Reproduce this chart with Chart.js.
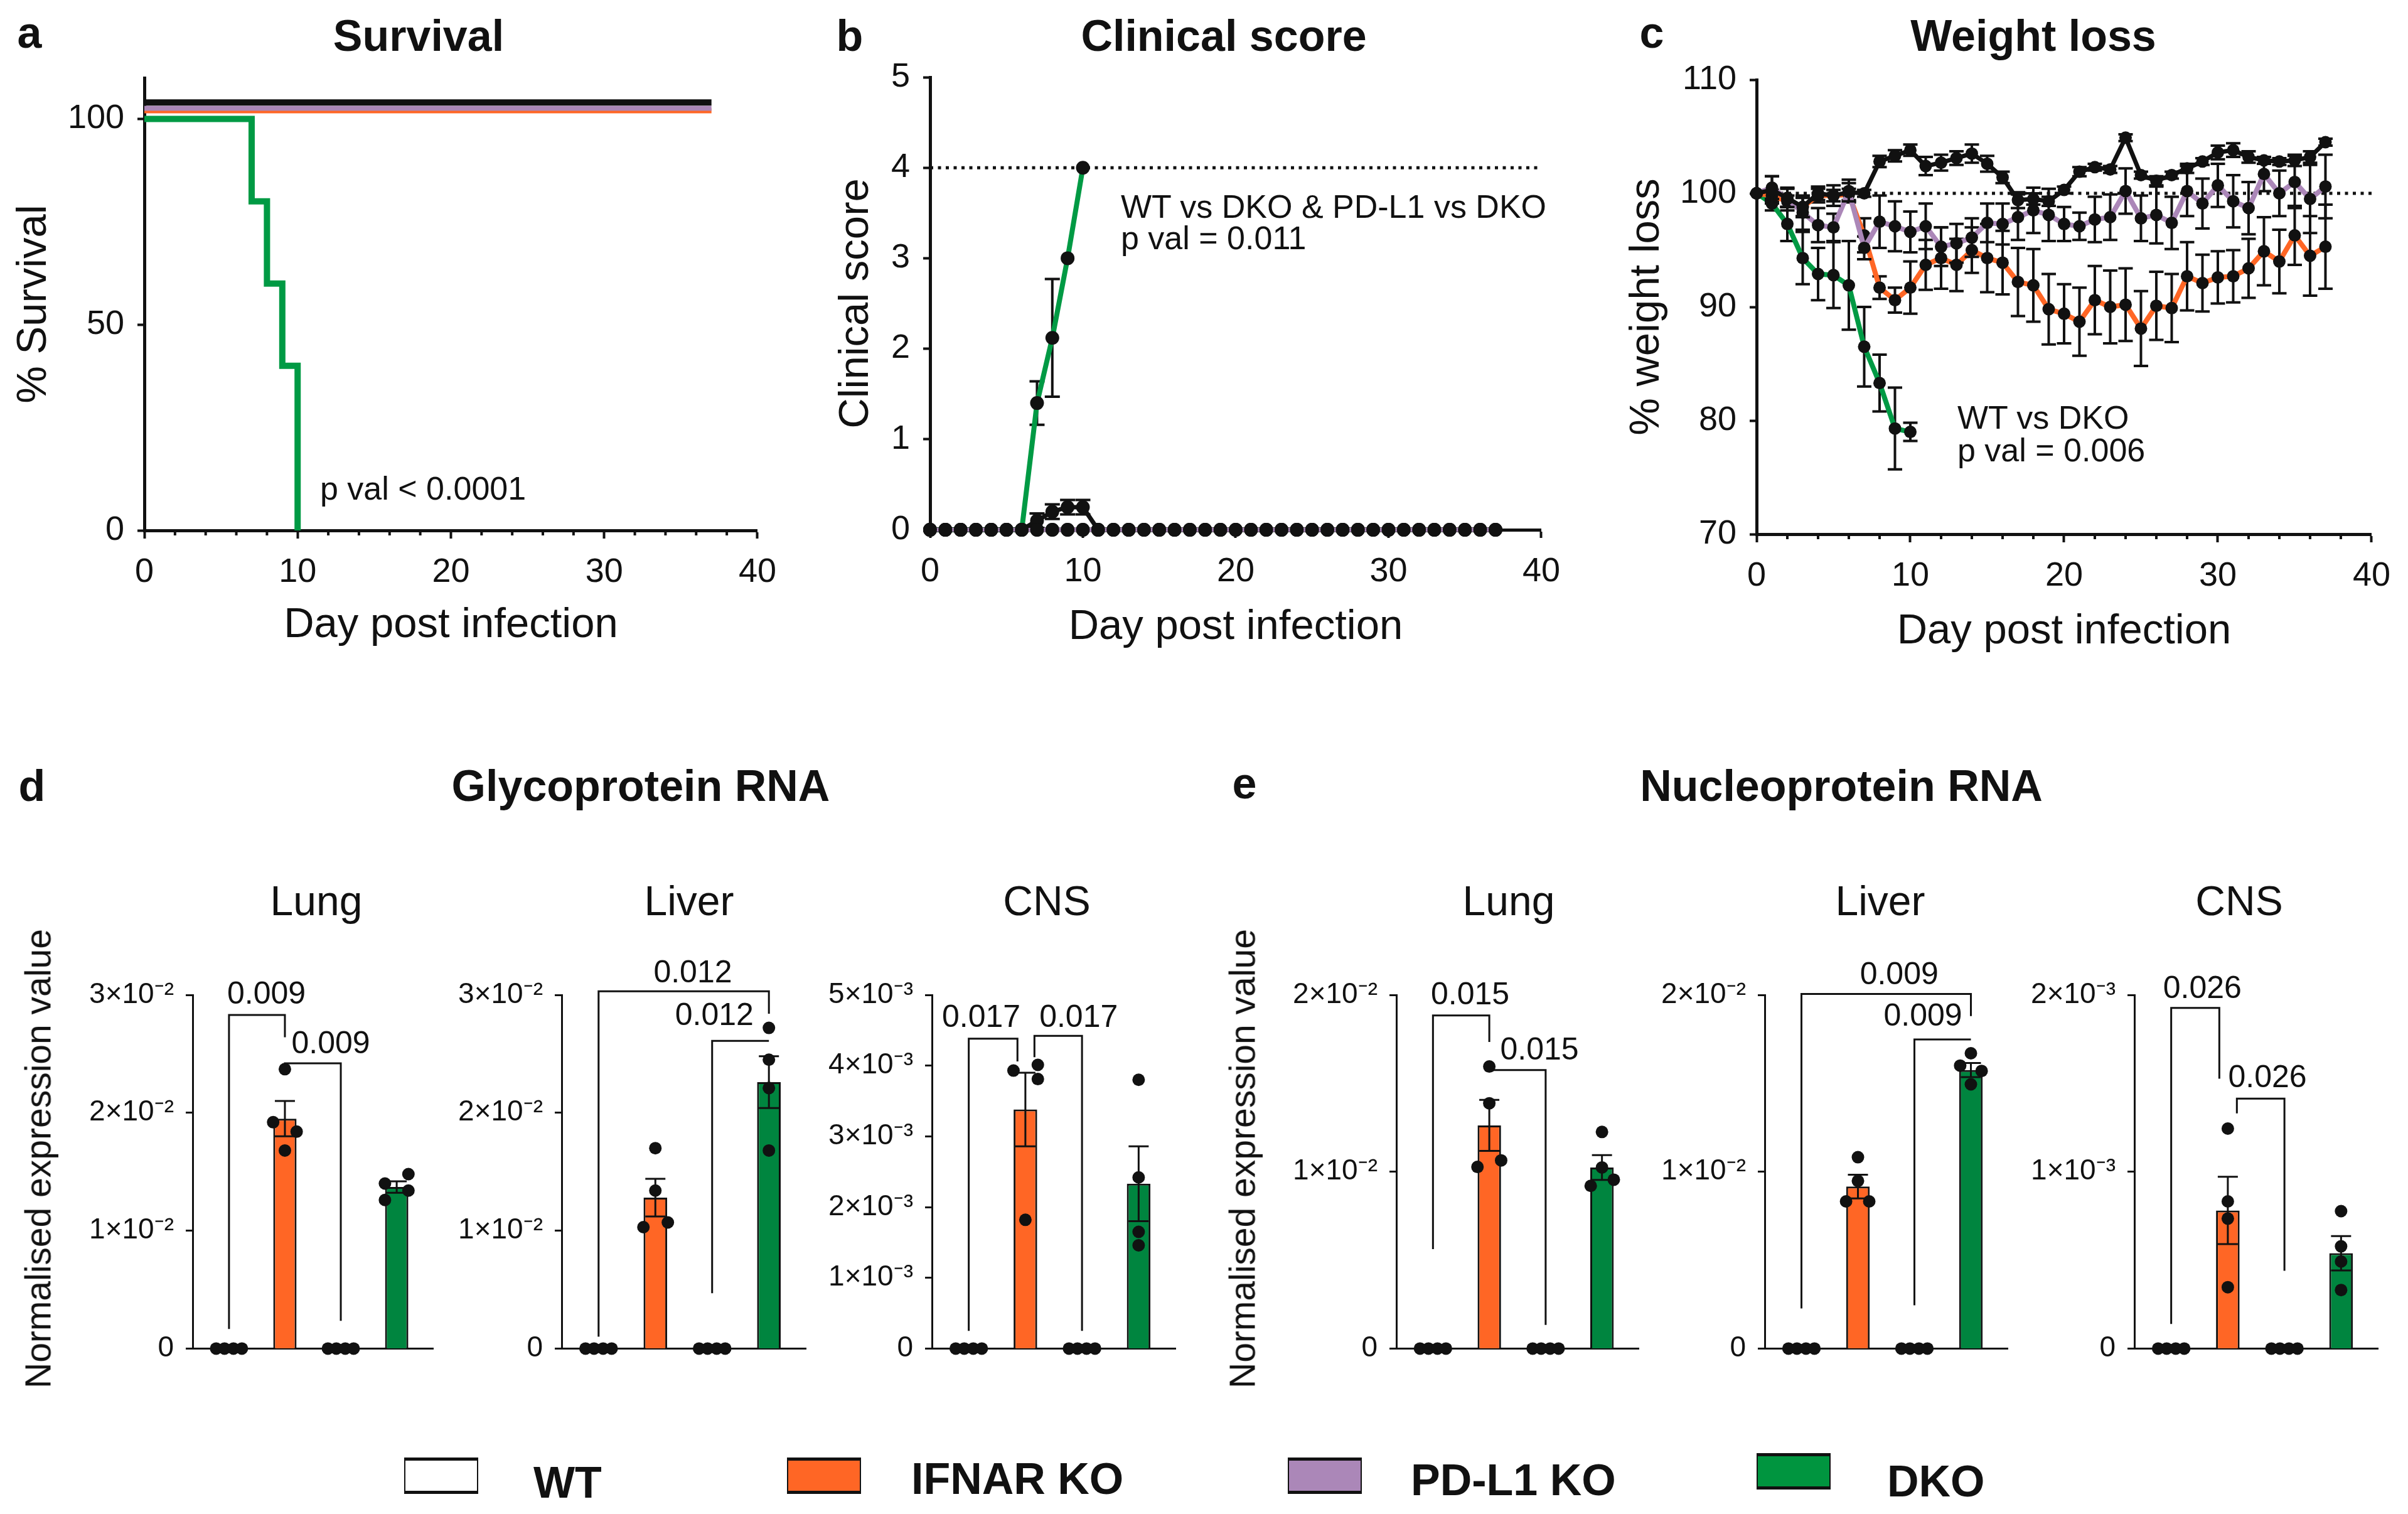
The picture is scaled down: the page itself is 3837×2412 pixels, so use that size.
<!DOCTYPE html>
<html>
<head>
<meta charset="utf-8">
<script src="https://cdn.jsdelivr.net/npm/chart.js@4.4.1/dist/chart.umd.min.js"></script>
<style>
  html, body { margin: 0; padding: 0; background: #fff; }
  body { width: 3837px; height: 2412px; position: relative; overflow: hidden;
         font-family: "Liberation Sans", Arial, sans-serif; color: #111; }
  canvas { position: absolute; }
  .t { position: absolute; white-space: nowrap; line-height: 1; transform: translate(-50%, -50%); }
  .b { font-weight: bold; font-size: 70px; }
  .organ { font-size: 66px; }
  .ytitle { font-size: 57px; transform: translate(-50%, -50%) rotate(-90deg); }
  .note { position: absolute; white-space: nowrap; line-height: 1; font-size: 52px; transform: translateY(-50%); }
  .key { position: absolute; width: 114px; height: 48px; border: 2px solid #111; border-top-width: 5px; border-bottom-width: 5px; }
  .keytxt { position: absolute; font-weight: bold; font-size: 70px; line-height: 1; transform: translateY(-50%); white-space: nowrap; }
</style>
</head>
<body>

<canvas id="survival" style="left:0px;top:0px" width="1259" height="1037"></canvas>
<canvas id="clinical" style="left:1300px;top:0px" width="1208" height="1040"></canvas>
<canvas id="weight" style="left:2560px;top:0px" width="1271" height="1047"></canvas>

<canvas id="glyLung" style="left:0px;top:1500px" width="700" height="695"></canvas>
<canvas id="glyLiver" style="left:695px;top:1500px" width="599" height="695"></canvas>
<canvas id="glyCNS" style="left:1285px;top:1500px" width="598" height="695"></canvas>
<canvas id="nucLung" style="left:1900px;top:1500px" width="721" height="695"></canvas>
<canvas id="nucLiver" style="left:2612px;top:1500px" width="597" height="695"></canvas>
<canvas id="nucCNS" style="left:3201px;top:1500px" width="598" height="695"></canvas>

<div class="t b" style="left:47px;top:52px">a</div>
<div class="t b" style="left:667px;top:57px">Survival</div>
<div class="t b" style="left:1354px;top:57px">b</div>
<div class="t b" style="left:1950px;top:57px">Clinical score</div>
<div class="t b" style="left:2632px;top:52px">c</div>
<div class="t b" style="left:3240px;top:57px">Weight loss</div>

<div class="note" style="left:510px;top:778px">p val &lt; 0.0001</div>
<div class="note" style="left:1786px;top:329px">WT vs DKO &amp; PD-L1 vs DKO</div>
<div class="note" style="left:1786px;top:379px">p val = 0.011</div>
<div class="note" style="left:3119px;top:665px">WT vs DKO</div>
<div class="note" style="left:3119px;top:717px">p val = 0.006</div>

<div class="t b" style="left:51px;top:1252px">d</div>
<div class="t b" style="left:1021px;top:1252px">Glycoprotein RNA</div>
<div class="t b" style="left:1983px;top:1248px">e</div>
<div class="t b" style="left:2934px;top:1252px">Nucleoprotein RNA</div>

<div class="t organ" style="left:504px;top:1435px">Lung</div>
<div class="t organ" style="left:1098px;top:1435px">Liver</div>
<div class="t organ" style="left:1668px;top:1435px">CNS</div>
<div class="t organ" style="left:2404px;top:1435px">Lung</div>
<div class="t organ" style="left:2996px;top:1435px">Liver</div>
<div class="t organ" style="left:3568px;top:1435px">CNS</div>

<div class="t ytitle" style="left:61px;top:1846px">Normalised expression value</div>
<div class="t ytitle" style="left:1980px;top:1846px">Normalised expression value</div>

<div class="key" style="left:644px;top:2322px;background:#ffffff"></div>
<div class="keytxt" style="left:850px;top:2362px">WT</div>
<div class="key" style="left:1254px;top:2322px;background:#FF6625"></div>
<div class="keytxt" style="left:1452px;top:2356px">IFNAR KO</div>
<div class="key" style="left:2052px;top:2322px;background:#AB87B8"></div>
<div class="keytxt" style="left:2248px;top:2358px">PD-L1 KO</div>
<div class="key" style="left:2799px;top:2315px;background:#00953F"></div>
<div class="keytxt" style="left:3007px;top:2360px">DKO</div>

<script>
const FONT = '"Liberation Sans", Arial, sans-serif';
const INK = '#111';
const ORANGE = '#FF6625';
const PURPLE = '#AB87B8';
const GREEN_LINE = '#009A44';
const GREEN_BAR = '#00853F';

Chart.defaults.font.family = FONT;
Chart.defaults.color = INK;

// ---------- a: survival (Kaplan-Meier, %)
const survTimes = [0, 37];
const survWT = [100, 100];
const survIFNAR = [100, 100];
const survPDL1 = [100, 100];
const dkoSurvTimes = [0, 7, 8, 9, 10];
const survDKO = [100, 80, 60, 40, 0];
// the coincident 100 % curves are nudged apart (as in the original) so each one shows
const survNudge = { wt: 4, pdl1: 2.6, ifnar: 2 };
const survYTicks = [0, 50, 100];

// ---------- b/c: day by day
const days = [0,1,2,3,4,5,6,7,8,9,10,11,12,13,14,15,16,17,18,19,20,21,22,23,24,25,26,27,28,29,30,31,32,33,34,35,36,37];
const dkoDays = [0,1,2,3,4,5,6,7,8,9,10];
const dayTicks = [0, 10, 20, 30, 40];
const minorDays = [2,4,6,8,12,14,16,18,22,24,26,28,32,34,36,38];

// clinical score (mean, SEM)
const scoreWT    = [0,0,0,0,0,0,0,0,0,0,0,0,0,0,0,0,0,0,0,0,0,0,0,0,0,0,0,0,0,0,0,0,0,0,0,0,0,0];
const scoreIFNAR = [0,0,0,0,0,0,0,0.1,0.2,0.25,0.25,0,0,0,0,0,0,0,0,0,0,0,0,0,0,0,0,0,0,0,0,0,0,0,0,0,0,0];
const scoreIFNARsem = [0,0,0,0,0,0,0,0.08,0.08,0.08,0.08,0,0,0,0,0,0,0,0,0,0,0,0,0,0,0,0,0,0,0,0,0,0,0,0,0,0,0];
const scorePDL1  = [0,0,0,0,0,0,0,0,0,0,0,0,0,0,0,0,0,0,0,0,0,0,0,0,0,0,0,0,0,0,0,0,0,0,0,0,0,0];
const scoreDKO    = [0,0,0,0,0,0,0,1.4,2.12,3,4];
const scoreDKOsem = [0,0,0,0,0,0,0,0.24,0.65,0,0];
const humaneEndpoint = 4;
const scoreYTicks = [0, 1, 2, 3, 4, 5];

// % weight (mean, SEM)
const weightWT = [100,100.3,99.6,98.8,100,99.8,100.1,100,102.8,103.3,103.8,102.4,102.7,103.1,103.5,102.6,101.4,99.4,99.5,99.3,100.3,101.9,102.3,102.1,104.9,101.6,101.1,101.6,102.2,102.8,103.6,103.8,103.2,102.9,102.8,102.9,103.2,104.5];
const weightWTsem = [0,1.2,0.8,0.9,0.6,0.9,0.8,0.3,0.5,0.5,0.5,0.8,0.7,0.6,0.8,0.7,0.5,0.7,0.5,0.4,0.3,0.4,0.3,0.3,0.3,0.3,0.4,0.3,0.4,0.3,0.6,0.6,0.5,0.3,0.3,0.5,0.5,0.3];
const weightPDL1 = [100,100.5,99.5,98.3,97.2,97.0,100.2,95.2,97.5,97.1,96.6,97.1,95.3,95.6,96.1,97.4,97.3,97.9,98.5,98.1,97.3,97.1,97.7,97.9,100.2,97.8,98.1,97.4,100.2,99.1,100.7,99.3,98.7,101.7,100.0,101.0,99.5,100.6];
const weightPDL1sem = [0,1.0,1.0,1.5,1.5,1.2,1.0,1.0,2.3,2.2,1.8,2.0,1.7,1.7,1.7,1.7,1.8,2.0,2.0,2.3,1.5,1.2,2.0,2.0,2.0,2.0,2.5,2.3,2.2,2.2,1.9,2.3,2.3,1.5,2.0,2.3,3.0,2.8];
const weightIFNAR = [100,99.8,99.3,98.8,99.8,99.8,99.9,96.3,91.7,90.6,91.7,93.7,94.3,93.7,95.0,94.3,93.9,92.2,91.9,89.8,89.4,88.7,90.6,90.0,90.2,88.1,90.1,89.9,92.7,92.1,92.6,92.7,93.4,94.9,94.0,96.3,94.5,95.3];
const weightIFNARsem = [0,0.5,0.5,0.8,0.6,0.5,0.5,1.5,1.0,1.1,2.3,2.2,2.7,2.3,2.0,3.0,2.8,3.0,3.2,3.1,2.6,3.0,3.0,3.2,3.2,3.3,3.0,3.0,3.0,2.5,2.3,2.3,2.6,3.0,2.8,2.6,3.5,3.7];
const weightDKO    = [100,99.1,97.3,94.3,92.9,92.8,91.9,86.5,83.3,79.3,79.0];
const weightDKOsem = [0,0.6,1.5,2.3,2.3,2.9,3.9,3.5,2.5,3.6,0.8];
const startWeight = 100;
const weightYTicks = [70, 80, 90, 100, 110];
const refSpan = [0, 40];

// ---------- d/e: viral RNA, groups WT, IFNAR KO, PD-L1 KO, DKO
const groups = ['WT', 'IFNAR KO', 'PD-L1 KO', 'DKO'];

const glyLungMice = [[0,0,0,0], [0.0237,0.0192,0.0184,0.0168], [0,0,0,0], [0.0148,0.0140,0.0134,0.0126]];
const glyLungMean = [0, 0.0195, 0, 0.0137];
const glyLungSem  = [0, 0.0015, 0, 0.00048];
const glyLungTicks = [0, 0.01, 0.02, 0.03];

const glyLiverMice = [[0,0,0,0], [0.0170,0.0134,0.0107,0.0103], [0,0,0,0], [0.0272,0.0245,0.0221,0.0168]];
const glyLiverMean = [0, 0.0128, 0, 0.0226];
const glyLiverSem  = [0, 0.0016, 0, 0.0022];
const glyLiverTicks = [0, 0.01, 0.02, 0.03];

const glyCNSMice = [[0,0,0,0], [0.00393,0.00401,0.00381,0.00182], [0,0,0,0], [0.00380,0.00242,0.00165,0.00146]];
const glyCNSMean = [0, 0.00338, 0, 0.00233];
const glyCNSSem  = [0, 0.00052, 0, 0.00053];
const glyCNSTicks = [0, 0.001, 0.002, 0.003, 0.004, 0.005];

const nucLungMice = [[0,0,0,0], [0.01595,0.01387,0.01064,0.01027], [0,0,0,0], [0.01225,0.01024,0.00955,0.0092]];
const nucLungMean = [0, 0.01262, 0, 0.01024];
const nucLungSem  = [0, 0.00144, 0, 0.0007];
const nucLungTicks = [0, 0.01, 0.02];

const nucLiverMice = [[0,0,0,0], [0.01082,0.00948,0.00832,0.00832], [0,0,0,0], [0.0167,0.0160,0.0157,0.01494]];
const nucLiverMean = [0, 0.00916, 0, 0.01575];
const nucLiverSem  = [0, 0.00067, 0, 0.0004];
const nucLiverTicks = [0, 0.01, 0.02];

const nucCNSMice = [[0,0,0,0], [0.001244,0.000832,0.000735,0.000347], [0,0,0,0], [0.000777,0.000578,0.000492,0.000331]];
const nucCNSMean = [0, 0.000781, 0, 0.000539];
const nucCNSSem  = [0, 0.00019, 0, 0.000097];
const nucCNSTicks = [0, 0.001, 0.002];

// p-value brackets: groups joined, bar height, leg ends, label and where it sits
const glyLungP = [
  { from: 0, to: 1, y: 0.0283, legs: [0.00166, 0.0264], p: '0.009', lx: 0.67, ly: 0.0300 },
  { from: 1, to: 2, y: 0.0242, legs: [0.0238, 0.00235], p: '0.009', lx: 1.82, ly: 0.0258 }
];
const glyLiverP = [
  { from: 0, to: 3, y: 0.0303, legs: [0.0010, 0.0284], p: '0.012', lx: 1.66, ly: 0.0318 },
  { from: 2, to: 3, y: 0.0261, legs: [0.0047, 0.0261], p: '0.012', lx: 2.04, ly: 0.0282 }
];
const glyCNSP = [
  { from: 0, to: 0.86, y: 0.00438, legs: [0.00025, 0.00406], p: '0.017', lx: 0.22, ly: 0.00467 },
  { from: 1.16, to: 2, y: 0.00442, legs: [0.00412, 0.00025], p: '0.017', lx: 1.94, ly: 0.00467 }
];
const nucLungP = [
  { from: 0, to: 1, y: 0.01884, legs: [0.00562, 0.01734], p: '0.015', lx: 0.66, ly: 0.01995 },
  { from: 1, to: 2, y: 0.01575, legs: [0.01575, 0.00134], p: '0.015', lx: 1.89, ly: 0.01683 }
];
const nucLiverP = [
  { from: 0, to: 3, y: 0.02005, legs: [0.00227, 0.0188], p: '0.009', lx: 1.73, ly: 0.0211 },
  { from: 2, to: 3, y: 0.01748, legs: [0.00245, 0.01748], p: '0.009', lx: 2.15, ly: 0.01875 }
];
const nucCNSP = [
  { from: 0, to: 0.85, y: 0.001926, legs: [0.000139, 0.001526], p: '0.026', lx: 0.55, ly: 0.00203 },
  { from: 1.16, to: 2, y: 0.001413, legs: [0.00133, 0.00044], p: '0.026', lx: 1.70, ly: 0.001526 }
];

// horizontal spread of the mouse dots inside each group (layout only)
const zeroSpread = [-0.23, -0.08, 0.08, 0.23];
const glyLungSpread  = [zeroSpread, [0, -0.21, 0.21, 0], zeroSpread, [0.21, -0.21, 0.21, -0.21]];
const glyLiverSpread = [zeroSpread, [0, 0, 0.22, -0.21], zeroSpread, [0, 0, 0, 0]];
const glyCNSSpread   = [zeroSpread, [-0.21, 0.22, 0.22, 0], zeroSpread, [0, 0, 0, 0]];
const nucLungSpread  = [zeroSpread, [0, 0, 0.21, -0.21], zeroSpread, [0, 0, 0.21, -0.2]];
const nucLiverSpread = [zeroSpread, [0, 0, -0.21, 0.2], zeroSpread, [0, -0.19, 0.19, 0]];
const nucCNSSpread   = [zeroSpread, [0, 0, 0, 0], zeroSpread, [0, 0, 0, 0]];

const BAR_FILL = ['#ffffff', ORANGE, PURPLE, GREEN_BAR];

///////////// helpers
const xy = (xs, ys, dy = 0) => ys.map((v, i) => ({ x: xs[i], y: v + dy }));

const SUP = { '0': '⁰', '1': '¹', '2': '²', '3': '³', '4': '⁴', '5': '⁵', '6': '⁶', '7': '⁷', '8': '⁸', '9': '⁹', '-': '⁻' };
function sci(v) {
  if (v === 0) return '0';
  const e = Math.floor(Math.log10(v) + 1e-9);
  const m = Math.round(v / Math.pow(10, e));
  return m + '×10' + String(e).split('').map(c => SUP[c]).join('');
}

function errorBarPlugin(semByDataset, width, cap, before) {
  const draw = (chart, args) => {
    const sem = semByDataset[args.index];
    if (!sem) return;
    const meta = args.meta;
    const y = chart.scales[meta.yAxisID];
    const ctx = chart.ctx;
    ctx.save();
    ctx.strokeStyle = INK;
    ctx.lineWidth = width;
    meta.data.forEach((el, i) => {
      const e = sem[i];
      if (!e) return;
      const v = meta.controller.getParsed(i).y;
      const top = y.getPixelForValue(v + e), bot = y.getPixelForValue(v - e);
      const h = cap / 2;
      ctx.beginPath();
      ctx.moveTo(el.x, top); ctx.lineTo(el.x, bot);
      ctx.moveTo(el.x - h, top); ctx.lineTo(el.x + h, top);
      ctx.moveTo(el.x - h, bot); ctx.lineTo(el.x + h, bot);
      ctx.stroke();
    });
    ctx.restore();
  };
  return before ? { id: 'errbars', beforeDatasetDraw: draw } : { id: 'errbars', afterDatasetDraw: draw };
}

function minorTickPlugin(values, len, width) {
  return {
    id: 'minorTicks',
    afterDraw(chart) {
      const { ctx, chartArea } = chart;
      const x = chart.scales.x;
      ctx.save();
      ctx.strokeStyle = INK;
      ctx.lineWidth = width;
      ctx.beginPath();
      values.forEach(v => {
        const px = x.getPixelForValue(v);
        ctx.moveTo(px, chartArea.bottom);
        ctx.lineTo(px, chartArea.bottom + len);
      });
      ctx.stroke();
      ctx.restore();
    }
  };
}

function bracketPlugin(brackets) {
  return {
    id: 'brackets',
    afterDraw(chart) {
      const { ctx } = chart;
      const { x, y } = chart.scales;
      ctx.save();
      ctx.strokeStyle = INK;
      ctx.fillStyle = INK;
      ctx.lineWidth = 3;
      ctx.font = '50px ' + FONT;
      ctx.textAlign = 'center';
      ctx.textBaseline = 'middle';
      brackets.forEach(b => {
        const xa = x.getPixelForValue(b.from), xb = x.getPixelForValue(b.to);
        const yb = y.getPixelForValue(b.y);
        ctx.beginPath();
        ctx.moveTo(xa, y.getPixelForValue(b.legs[0]));
        ctx.lineTo(xa, yb);
        ctx.lineTo(xb, yb);
        ctx.lineTo(xb, y.getPixelForValue(b.legs[1]));
        ctx.stroke();
        ctx.fillText(b.p, x.getPixelForValue(b.lx), y.getPixelForValue(b.ly));
      });
      ctx.restore();
    }
  };
}

function lineOptions(o) {
  return {
    responsive: false,
    animation: false,
    layout: { padding: { top: o.top, right: o.right, left: 0, bottom: 0 } },
    plugins: { legend: { display: false }, tooltip: { enabled: false } },
    scales: {
      x: {
        type: 'linear', min: 0, max: 40,
        afterBuildTicks: s => { s.ticks = dayTicks.map(v => ({ value: v })); },
        afterFit: s => { s.height = o.xH; },
        grid: { drawOnChartArea: false, tickLength: 13, tickWidth: 4, tickColor: INK },
        border: { width: 5, color: INK },
        ticks: { font: { size: 54 }, padding: 22, color: INK, maxRotation: 0, autoSkip: false },
        title: { display: true, text: 'Day post infection', font: { size: 67 }, padding: { top: 0, bottom: 0 }, color: INK }
      },
      y: {
        type: 'linear', min: o.yTicks[0], max: o.yMax,
        afterBuildTicks: s => { s.ticks = o.yTicks.map(v => ({ value: v })); },
        afterFit: s => { s.width = o.yW; },
        grid: { drawOnChartArea: false, tickLength: 11, tickWidth: 4, tickColor: INK },
        border: { width: 5, color: INK },
        ticks: { font: { size: 54 }, padding: 21, color: INK },
        title: { display: true, text: o.yTitle, font: { size: 67 }, padding: { top: o.yTitlePad, bottom: 0 }, color: INK }
      }
    }
  };
}

function series(data, color, width, radius, order, extra) {
  return Object.assign({
    data, borderColor: color, borderWidth: width, tension: 0, fill: false,
    pointRadius: radius, pointHoverRadius: radius, pointBackgroundColor: INK, pointBorderWidth: 0,
    clip: false, order
  }, extra || {});
}

///////////// a: Survival
new Chart(document.getElementById('survival'), {
  type: 'line',
  data: { datasets: [
    series(xy(survTimes, survWT, survNudge.wt), INK, 10, 0, 0),
    series(xy(survTimes, survPDL1, survNudge.pdl1), PURPLE, 8, 0, 1),
    series(xy(survTimes, survIFNAR, survNudge.ifnar), ORANGE, 8, 0, 2),
    series(xy(dkoSurvTimes, survDKO), GREEN_LINE, 10, 0, 3, { stepped: 'before' })
  ]},
  options: lineOptions({ top: 124, right: 40, xH: 192, yW: 230, yTicks: survYTicks, yMax: 110, yTitle: '% Survival', yTitlePad: 14 }),
  plugins: [minorTickPlugin(minorDays, 8, 4)]
});

///////////// b: Clinical score
new Chart(document.getElementById('clinical'), {
  type: 'line',
  data: { datasets: [
    series(xy(days, scorePDL1), PURPLE, 6, 11, 0),
    series(xy(days, scoreWT), INK, 7, 11, 1),
    series(xy(days, scoreIFNAR), INK, 7, 11, 2),
    series(xy(dkoDays, scoreDKO), GREEN_LINE, 8, 11, 3),
    series(xy(refSpan, [humaneEndpoint, humaneEndpoint]), INK, 5, 0, 4, { borderDash: [5, 7.5] })
  ]},
  options: lineOptions({ top: 123, right: 40, xH: 196, yW: 182, yTicks: scoreYTicks, yMax: 5, yTitle: 'Clinical score', yTitlePad: 24 }),
  plugins: [errorBarPlugin([null, null, scoreIFNARsem, scoreDKOsem, null], 4, 24, true)]
});

///////////// c: Weight loss
new Chart(document.getElementById('weight'), {
  type: 'line',
  data: { datasets: [
    series(xy(days, weightWT), INK, 7, 10, 0),
    series(xy(days, weightPDL1), PURPLE, 8, 10, 1),
    series(xy(days, weightIFNAR), ORANGE, 8, 10, 2),
    series(xy(dkoDays, weightDKO), GREEN_LINE, 8, 10, 3),
    series(xy(refSpan, [startWeight, startWeight]), INK, 5, 0, 4, { borderDash: [5, 7.5] })
  ]},
  options: lineOptions({ top: 127, right: 45, xH: 196, yW: 239, yTicks: weightYTicks, yMax: 110, yTitle: '% weight loss', yTitlePad: 24 }),
  plugins: [
    errorBarPlugin([weightWTsem, weightPDL1sem, weightIFNARsem, weightDKOsem, null], 4, 23, true),
    minorTickPlugin(minorDays, 8, 4)
  ]
});

///////////// d/e: bar + dot plots
function barPanel(id, mice, means, sems, spread, ticks, brackets, yW) {
  const dots = [];
  mice.forEach((grp, g) => grp.forEach((v, k) => dots.push({ x: g + spread[g][k], y: v })));
  new Chart(document.getElementById(id), {
    type: 'bar',
    data: { datasets: [
      {
        type: 'bar', label: 'mean',
        data: means.map((m, g) => ({ x: g, y: m })),
        backgroundColor: BAR_FILL, borderColor: INK, borderWidth: 3,
        barPercentage: 0.64, categoryPercentage: 1, order: 2
      },
      {
        type: 'scatter', label: 'mice', data: dots,
        pointRadius: 10, pointHoverRadius: 10, pointBackgroundColor: INK, pointBorderWidth: 0,
        clip: false, order: 0
      }
    ]},
    options: {
      responsive: false,
      animation: false,
      layout: { padding: { top: 85, right: 10, left: 0, bottom: 0 } },
      plugins: { legend: { display: false }, tooltip: { enabled: false } },
      scales: {
        x: {
          type: 'linear', min: -0.65, max: 3.65, offset: false,
          afterFit: s => { s.height = 30; },
          grid: { display: false },
          ticks: { display: false },
          border: { display: true, width: 3, color: INK }
        },
        y: {
          type: 'linear', min: 0, max: ticks[ticks.length - 1],
          afterBuildTicks: s => { s.ticks = ticks.map(v => ({ value: v })); },
          afterFit: s => { s.width = yW; },
          grid: { drawOnChartArea: false, tickLength: 11, tickWidth: 3, tickColor: INK },
          border: { width: 3, color: INK },
          ticks: { font: { size: 46 }, padding: 19, color: INK, callback: v => sci(v) }
        }
      }
    },
    plugins: [errorBarPlugin([sems, null], 3, 32, false), bracketPlugin(brackets)]
  });
}

barPanel('glyLung', glyLungMice, glyLungMean, glyLungSem, glyLungSpread, glyLungTicks, glyLungP, 307);
barPanel('glyLiver', glyLiverMice, glyLiverMean, glyLiverSem, glyLiverSpread, glyLiverTicks, glyLiverP, 200);
barPanel('glyCNS', glyCNSMice, glyCNSMean, glyCNSSem, glyCNSSpread, glyCNSTicks, glyCNSP, 200);
barPanel('nucLung', nucLungMice, nucLungMean, nucLungSem, nucLungSpread, nucLungTicks, nucLungP, 325);
barPanel('nucLiver', nucLiverMice, nucLiverMean, nucLiverSem, nucLiverSpread, nucLiverTicks, nucLiverP, 200);
barPanel('nucCNS', nucCNSMice, nucCNSMean, nucCNSSem, nucCNSSpread, nucCNSTicks, nucCNSP, 200);
</script>
</body>
</html>
